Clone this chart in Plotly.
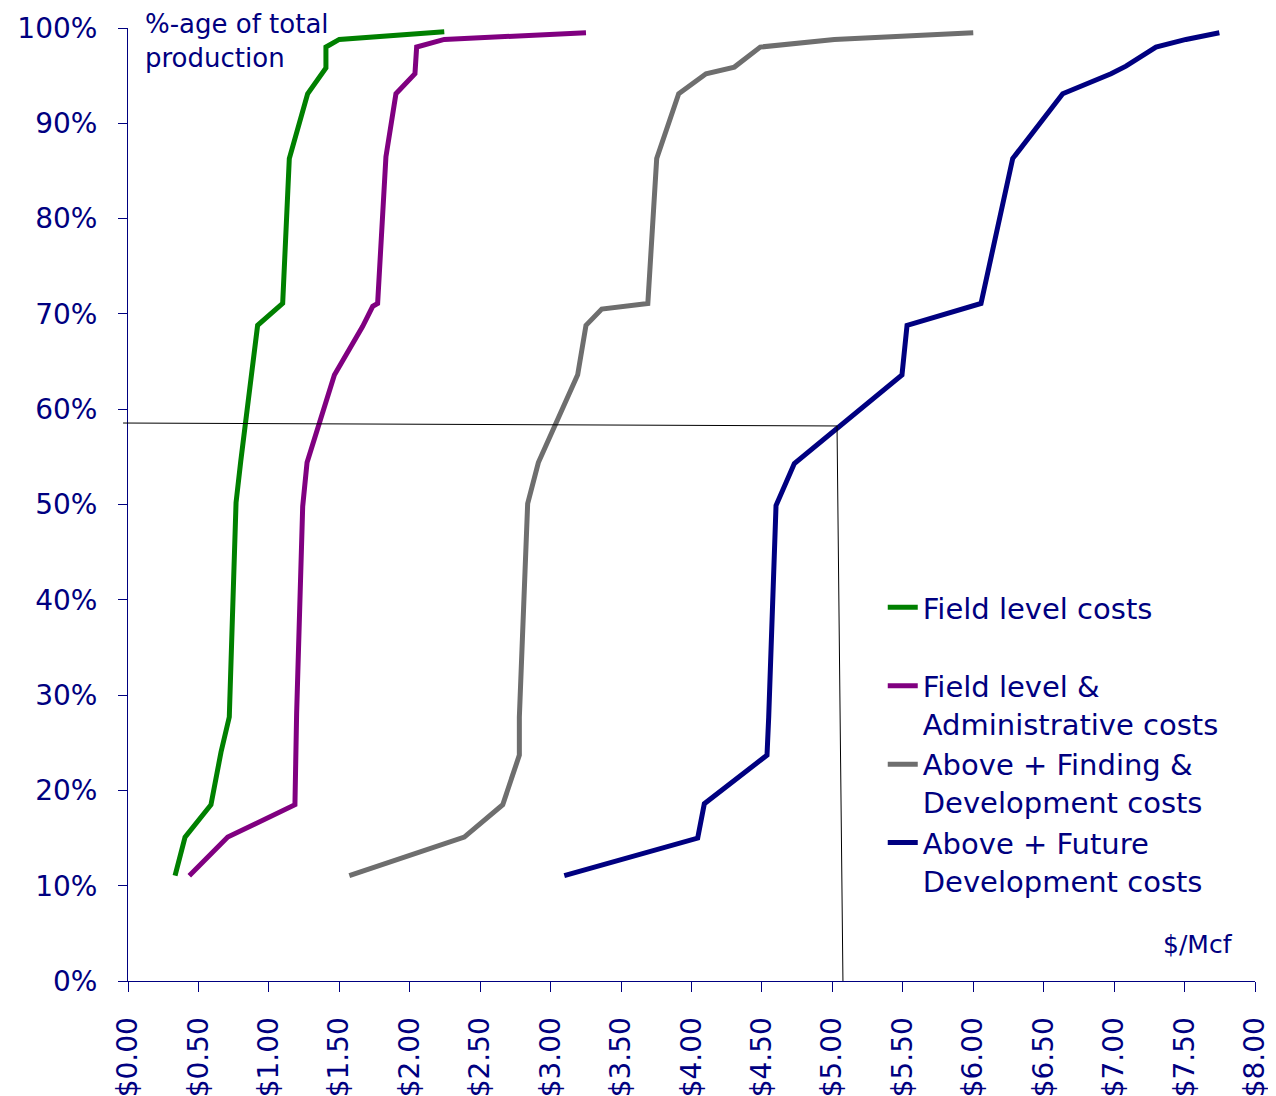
import plotly.graph_objects as go

# Cumulative share of total production (%) vs cost ($/Mcf)
field_x = [0.334, 0.405, 0.589, 0.66, 0.719, 0.767, 0.80, 0.92, 1.098, 1.145, 1.275, 1.382, 1.405, 1.405, 1.50, 2.245]
field_y = [11.05, 15.1, 18.5, 24.0, 27.7, 50.2, 54.5, 68.8, 71.1, 86.3, 93.1, 95.2, 95.8, 98.0, 98.8, 99.6]

admin_x = [0.435, 0.708, 1.185, 1.197, 1.24, 1.271, 1.465, 1.666, 1.737, 1.772, 1.831, 1.902, 2.037, 2.049, 2.245, 3.251]
admin_y = [11.05, 15.1, 18.5, 28.1, 49.8, 54.4, 63.6, 68.7, 70.8, 71.1, 86.5, 93.1, 95.2, 98.0, 98.8, 99.5]

finding_x = [1.571, 2.387, 2.66, 2.778, 2.778, 2.837, 2.913, 3.192, 3.251, 3.363, 3.69, 3.753, 3.909, 4.103, 4.304, 4.488, 5.014, 6.0]
finding_y = [11.05, 15.1, 18.5, 23.7, 27.7, 50.1, 54.4, 63.6, 68.8, 70.5, 71.1, 86.3, 93.1, 95.2, 95.9, 98.0, 98.8, 99.5]

future_x = [3.097, 4.044, 4.091, 4.536, 4.548, 4.6, 4.73, 5.494, 5.53, 6.055, 6.28, 6.635, 6.978, 7.084, 7.297, 7.51, 7.747]
future_y = [11.05, 15.0, 18.6, 23.7, 27.7, 49.9, 54.3, 63.6, 68.8, 71.1, 86.3, 93.1, 95.2, 96.0, 98.0, 98.8, 99.5]

series_names = [
    "Field level costs<br> ",
    "Field level &<br>Administrative costs",
    "Above + Finding &<br>Development costs",
    "Above + Future<br>Development costs",
]
series_colors = ["#008000", "#800080", "#6E6E6E", "#000080"]

# Reference read-off: ~58.4% of production at ~$5.05/Mcf
ref_y_left, ref_y_right = 58.55, 58.24
ref_x_top, ref_x_bottom = 5.033, 5.075

x_tick_vals = [i * 0.5 for i in range(17)]
x_tick_text = ["$%.2f" % v for v in x_tick_vals]
y_tick_vals = list(range(0, 101, 10))
y_tick_text = ["%d%%" % v for v in y_tick_vals]

NAVY = "#000080"
FONT = "DejaVu Sans"

fig = go.Figure()
for xs, ys, name, col in zip([field_x, admin_x, finding_x, future_x],
                             [field_y, admin_y, finding_y, future_y],
                             series_names, series_colors):
    fig.add_trace(go.Scatter(x=xs, y=ys, mode="lines", name=name,
                             line=dict(color=col, width=5)))

# reference lines
fig.add_shape(type="line", xref="paper", yref="y",
              x0=-0.035 / 8, x1=ref_x_top / 8, y0=ref_y_left, y1=ref_y_right,
              line=dict(color="black", width=1))
fig.add_shape(type="line", xref="paper", yref="y",
              x0=ref_x_top / 8, x1=ref_x_bottom / 8, y0=ref_y_right, y1=0,
              line=dict(color="black", width=1))

fig.add_annotation(text="%-age of total<br>production", xref="x", yref="paper",
                   x=0.11, y=1.021, xanchor="left", yanchor="top", showarrow=False,
                   align="left", borderpad=0,
                   font=dict(family=FONT, size=26, color=NAVY))
fig.add_annotation(text="$/Mcf", xref="x", yref="y", x=7.86, y=3.8,
                   xanchor="right", yanchor="middle", showarrow=False,
                   font=dict(family=FONT, size=25, color=NAVY))

fig.update_layout(
    width=1276, height=1096,
    margin=dict(l=120, r=29, t=20, b=123, autoexpand=False),
    plot_bgcolor="white", paper_bgcolor="white",
    font=dict(family=FONT, size=28, color=NAVY),
    showlegend=True,
    legend=dict(x=0.6697, y=0.4187, xanchor="left", yanchor="top",
                valign="top",
                font=dict(family=FONT, size=29, color=NAVY),
                bgcolor="rgba(0,0,0,0)", traceorder="normal"),
)
fig.update_xaxes(range=[0, 8], tickvals=x_tick_vals, ticktext=x_tick_text,
                 tickangle=-90, ticks="outside", ticklen=10, tickcolor=NAVY,
                 showline=True, linecolor=NAVY, linewidth=1, showgrid=False,
                 zeroline=False, automargin=False, ticklabelstandoff=14,
                 tickfont=dict(family=FONT, size=28, color=NAVY))
fig.update_yaxes(range=[0, 100], tickvals=y_tick_vals, ticktext=y_tick_text,
                 ticks="outside", ticklen=9, tickcolor=NAVY,
                 showline=True, linecolor=NAVY, linewidth=1, showgrid=False,
                 zeroline=False, automargin=False, ticklabelstandoff=15,
                 tickfont=dict(family=FONT, size=28, color=NAVY))

fig.write_html("out.html")
